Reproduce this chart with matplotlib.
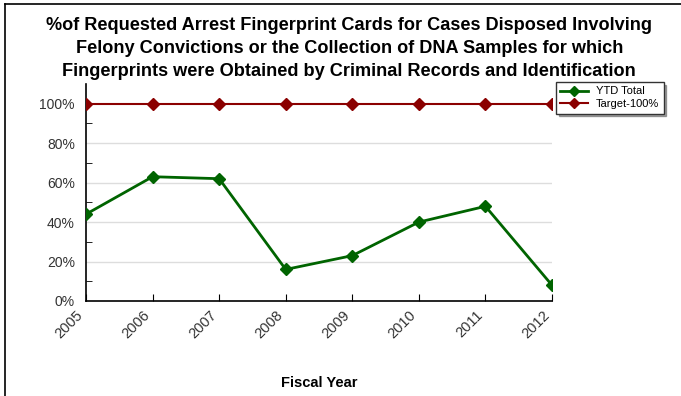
import matplotlib
matplotlib.use("Agg")
import matplotlib.pyplot as plt
from matplotlib.lines import Line2D

# data
years = ["2005", "2006", "2007", "2008", "2009", "2010", "2011", "2012"]
ytd_total = [44, 63, 62, 16, 23, 40, 48, 8]
target = [100, 100, 100, 100, 100, 100, 100, 100]

title = ("%of Requested Arrest Fingerprint Cards for Cases Disposed Involving\n"
         "Felony Convictions or the Collection of DNA Samples for which\n"
         "Fingerprints were Obtained by Criminal Records and Identification")

plt.rcParams['font.family'] = ['Liberation Sans', 'DejaVu Sans']

fig = plt.figure(figsize=(6.81, 3.96), dpi=100)
ax = fig.add_axes([86 / 681, 1 - 301 / 396, (552 - 86) / 681, (301 - 84) / 396])

x = list(range(len(years)))

# gridlines
for g in [20, 40, 60, 80]:
    ax.axhline(g, color='#dddddd', lw=1, zorder=0)

ax.plot(x, target, color='#8b0000', lw=1.5, marker='D', ms=6.5, label='Target-100%', zorder=3)
ax.plot(x, ytd_total, color='#006400', lw=2, marker='D', ms=6.5, label='YTD Total', zorder=4)

ax.set_xlim(0, len(years) - 1)
ax.set_ylim(0, 110)
ax.set_xticks(x)
ax.set_xticklabels(years, rotation=45, ha='right', fontsize=10.5, color='#333333')
ax.set_yticks([0, 20, 40, 60, 80, 100])
ax.set_yticklabels(['0%', '20%', '40%', '60%', '80%', '100%'], fontsize=10, color='#333333')
ax.set_yticks([10, 30, 50, 70, 90], minor=True)
ax.tick_params(axis='y', which='major', length=0, pad=8)
ax.tick_params(axis='y', which='minor', direction='in', length=4)
ax.tick_params(axis='x', direction='in', length=5, pad=5)

for s in ['top', 'right']:
    ax.spines[s].set_visible(False)
ax.spines['left'].set_linewidth(1.2)
ax.spines['bottom'].set_linewidth(1.2)

ax.set_xlabel('Fiscal Year', fontsize=10.5, fontweight='bold', labelpad=25)

fig.text(0.513, 1 - 17 / 396, title, ha='center', va='top', fontsize=13.1,
         fontweight='bold', linespacing=1.45)

handles = [Line2D([], [], color='#006400', lw=2, marker='D', ms=5),
           Line2D([], [], color='#8b0000', lw=1.5, marker='D', ms=5)]
leg = fig.legend(handles, ['YTD Total', 'Target-100%'], loc='upper left',
                 bbox_to_anchor=(556 / 681, 1 - 82 / 396), fontsize=8,
                 frameon=True, fancybox=False, shadow=True, borderpad=0.4,
                 borderaxespad=0, handlelength=2.5, labelspacing=0.25,
                 handletextpad=0.7)
leg.get_frame().set_edgecolor('#333333')

# border lines
fig.add_artist(Line2D([5 / 681, 1], [1 - 4 / 396, 1 - 4 / 396], color='black', lw=1.2))
fig.add_artist(Line2D([5 / 681, 5 / 681], [0, 1 - 4 / 396], color='black', lw=1.2))

fig.savefig('out.png', dpi=100)
